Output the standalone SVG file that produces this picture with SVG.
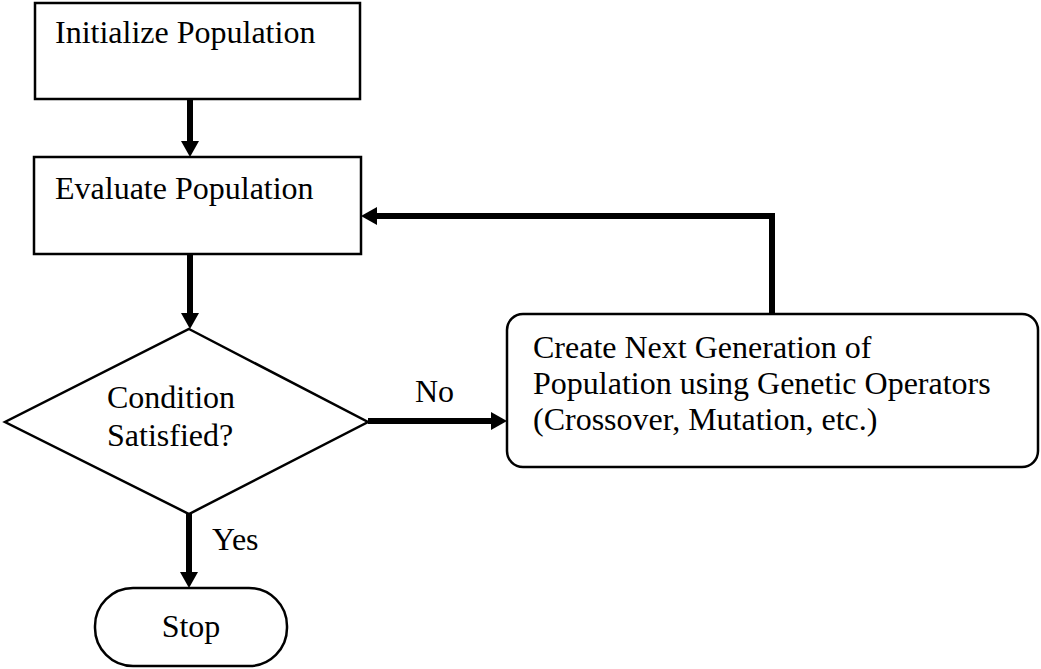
<svg xmlns="http://www.w3.org/2000/svg" width="1041" height="669" viewBox="0 0 1041 669">
<style>
.box{fill:#fff;stroke:#000;stroke-width:2.5}
.t{font-family:"Liberation Serif","Times New Roman",serif;font-size:32px;fill:#000}
.c{fill:none;stroke:#000;stroke-width:6}
</style>
<defs>
<marker id="ah" viewBox="0 0 16 18" refX="0" refY="9" markerWidth="16" markerHeight="18" markerUnits="userSpaceOnUse" orient="auto">
<path d="M0,0 L16,9 L0,18 z" fill="#000"/>
</marker>
</defs>
<rect width="1041" height="669" fill="#fff"/>
<g id="connectors">
<path class="c" d="M190,99 V141" marker-end="url(#ah)"/>
<path class="c" d="M190,254 V313" marker-end="url(#ah)"/>
<path class="c" d="M368,421 H491" marker-end="url(#ah)"/>
<path class="c" d="M189,514 V572" marker-end="url(#ah)"/>
<path class="c" d="M772,314 V216 H377" marker-end="url(#ah)"/>
<text class="t" x="415" y="402">No</text>
<text class="t" x="212" y="550">Yes</text>
</g>
<g id="init">
<rect class="box" x="35" y="3" width="325" height="96"/>
<text class="t" x="55" y="43">Initialize Population</text>
</g>
<g id="evaluate">
<rect class="box" x="34" y="157" width="327" height="97"/>
<text class="t" x="55" y="199">Evaluate Population</text>
</g>
<g id="condition">
<polygon class="box" points="189,329 368,422 189,514 5,422"/>
<text class="t" x="107" y="408">Condition</text>
<text class="t" x="107" y="446">Satisfied?</text>
</g>
<g id="nextgen">
<rect class="box" x="507" y="314" width="531" height="153" rx="16"/>
<text class="t" x="533" y="358">Create Next Generation of</text>
<text class="t" x="533" y="394">Population using Genetic Operators</text>
<text class="t" x="533" y="430">(Crossover, Mutation, etc.)</text>
</g>
<g id="stop">
<rect class="box" x="95" y="588" width="192" height="78" rx="38"/>
<text class="t" x="191" y="637" text-anchor="middle">Stop</text>
</g>
</svg>
